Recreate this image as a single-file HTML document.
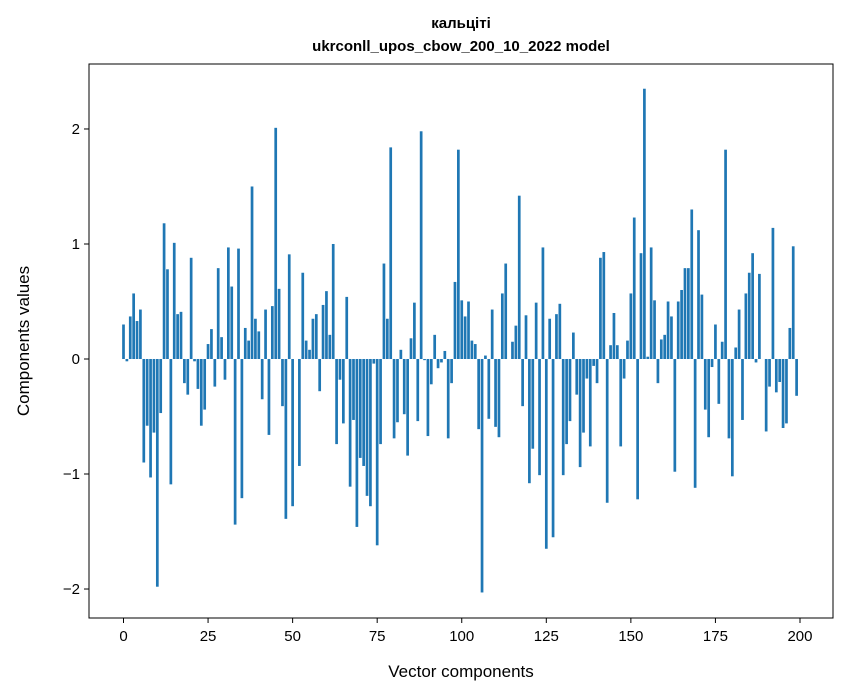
<!DOCTYPE html>
<html><head><meta charset="utf-8"><style>
html,body{margin:0;padding:0;background:#fff;}
svg{display:block;font-family:"Liberation Sans","DejaVu Sans",sans-serif;}
</style></head><body>
<svg id="chart" width="847" height="696" viewBox="0 0 847 696" xmlns="http://www.w3.org/2000/svg">
<text x="461" y="28" text-anchor="middle" font-size="15" font-weight="bold">кальціті</text>
<text x="461" y="51" text-anchor="middle" font-size="15" font-weight="bold">ukrconll_upos_cbow_200_10_2022 model</text>
<g id="bars"></g>
<rect x="89" y="64" width="744" height="554" fill="none" stroke="#000" stroke-width="1"/>
<g id="xticks"></g>
<g id="yticks"></g>
<text x="461" y="677" text-anchor="middle" font-size="17">Vector components</text>
<text transform="translate(29,341) rotate(-90)" text-anchor="middle" font-size="17">Components values</text>
</svg>
<script>
const values = [0.30,-0.02,0.37,0.57,0.33,0.43,-0.90,-0.58,-1.03,-0.64,
-1.98,-0.47,1.18,0.78,-1.09,1.01,0.39,0.41,-0.21,-0.31,
0.88,-0.02,-0.26,-0.58,-0.44,0.13,0.26,-0.24,0.79,0.19,
-0.18,0.97,0.63,-1.44,0.96,-1.21,0.27,0.16,1.50,0.35,
0.24,-0.35,0.43,-0.66,0.46,2.01,0.61,-0.41,-1.39,0.91,
-1.28,0.00,-0.93,0.75,0.16,0.08,0.35,0.39,-0.28,0.47,
0.59,0.21,1.00,-0.74,-0.18,-0.56,0.54,-1.11,-0.53,-1.46,
-0.86,-0.93,-1.19,-1.28,-0.04,-1.62,-0.74,0.83,0.35,1.84,
-0.69,-0.55,0.08,-0.48,-0.84,0.18,0.49,-0.54,1.98,-0.01,
-0.67,-0.22,0.21,-0.08,-0.03,0.07,-0.69,-0.21,0.67,1.82,
0.51,0.37,0.50,0.16,0.13,-0.61,-2.03,0.03,-0.52,0.43,
-0.59,-0.68,0.57,0.83,0.00,0.15,0.29,1.42,-0.41,0.38,
-1.08,-0.78,0.49,-1.01,0.97,-1.65,0.35,-1.55,0.39,0.48,
-1.01,-0.74,-0.54,0.23,-0.31,-0.94,-0.64,-0.17,-0.76,-0.06,
-0.21,0.88,0.93,-1.25,0.12,0.40,0.12,-0.76,-0.17,0.16,
0.57,1.23,-1.22,0.92,2.35,0.02,0.97,0.51,-0.21,0.17,
0.21,0.50,0.37,-0.98,0.50,0.60,0.79,0.79,1.30,-1.12,
1.12,0.56,-0.44,-0.68,-0.07,0.30,-0.39,0.15,1.82,-0.69,
-1.02,0.10,0.43,-0.53,0.57,0.75,0.92,-0.03,0.74,0.00,
-0.63,-0.24,1.14,-0.29,-0.20,-0.60,-0.56,0.27,0.98,-0.32];
const xTicks = [0,25,50,75,100,125,150,175,200];
const yTicks = [-2,-1,0,1,2];
const yTickLabels = ["\u22122","\u22121","0","1","2"];

const NS="http://www.w3.org/2000/svg";
const L=89,R=833,T=64,B=618;
const xMin=-10.2,xMax=209.76,yMin=-2.252,yMax=2.565;
const xs=v=>L+(v-xMin)/(xMax-xMin)*(R-L);
const ys=v=>B-(v-yMin)/(yMax-yMin)*(B-T);
const bars=document.getElementById('bars');
values.forEach((v,i)=>{
  const r=document.createElementNS(NS,'rect');
  const x0=xs(i-0.4),x1=xs(i+0.4);
  const y0=ys(Math.max(v,0)),y1=ys(Math.min(v,0));
  r.setAttribute('x',x0);r.setAttribute('width',x1-x0);
  r.setAttribute('y',y0);r.setAttribute('height',Math.max(y1-y0,0));
  r.setAttribute('fill','#1f77b4');
  
  
  bars.appendChild(r);
});
const xg=document.getElementById('xticks');
xTicks.forEach(t=>{
  const x=xs(t);
  const l=document.createElementNS(NS,'line');
  l.setAttribute('x1',x);l.setAttribute('x2',x);l.setAttribute('y1',B);l.setAttribute('y2',B+5);
  l.setAttribute('stroke','#000');
  
  
  xg.appendChild(l);
  const tx=document.createElementNS(NS,'text');
  tx.setAttribute('x',x);tx.setAttribute('y',B+23);tx.setAttribute('text-anchor','middle');tx.setAttribute('font-size','15');
  tx.textContent=t;
  
  
  xg.appendChild(tx);
});
const yg=document.getElementById('yticks');
yTicks.forEach((t,i)=>{
  const y=ys(t);
  const l=document.createElementNS(NS,'line');
  l.setAttribute('x1',L-5);l.setAttribute('x2',L);l.setAttribute('y1',y);l.setAttribute('y2',y);
  l.setAttribute('stroke','#000');
  
  
  yg.appendChild(l);
  const tx=document.createElementNS(NS,'text');
  tx.setAttribute('x',L-9);tx.setAttribute('y',y+5);tx.setAttribute('text-anchor','end');tx.setAttribute('font-size','15');
  tx.textContent=yTickLabels[i];
  
  
  yg.appendChild(tx);
});
</script>
</body></html>
